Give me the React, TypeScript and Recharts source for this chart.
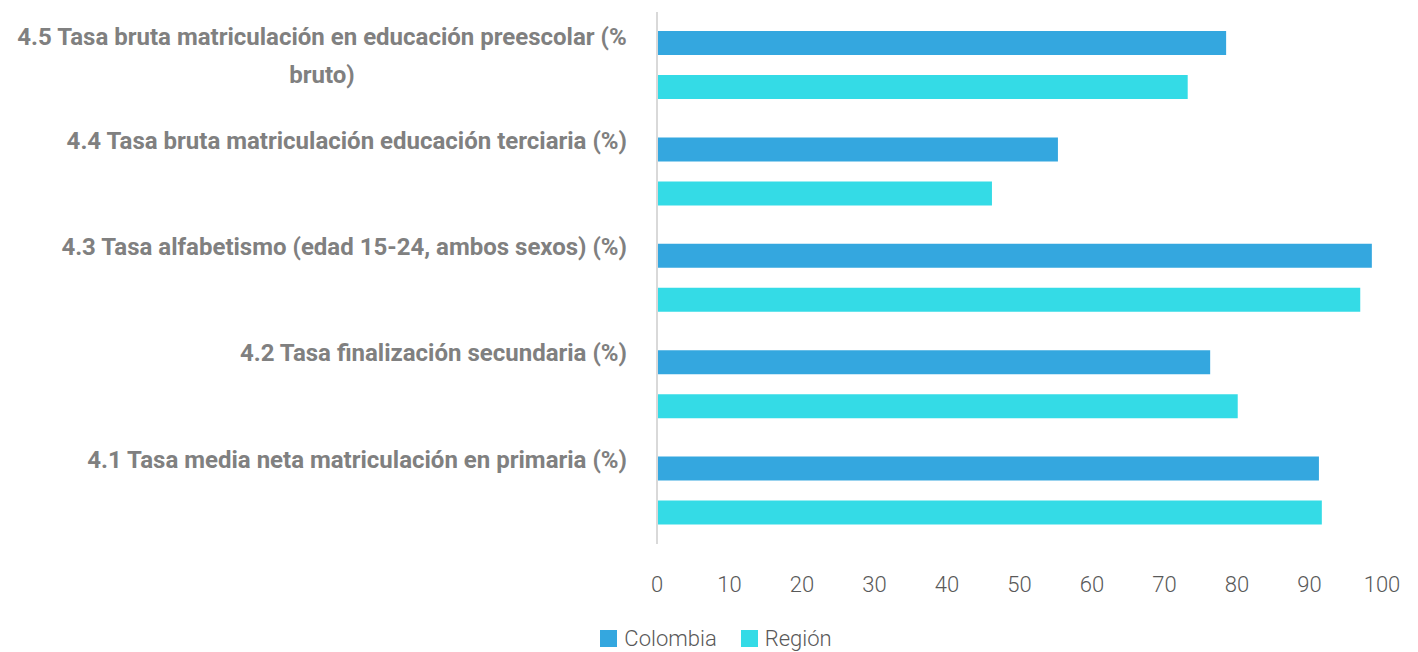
import React from 'react'
import { BarChart, Bar, XAxis, YAxis, Legend } from 'recharts'

const categories = [
  '4.5 Tasa bruta matriculación en educación preescolar (% bruto)',
  '4.4 Tasa bruta matriculación educación terciaria (%)',
  '4.3 Tasa alfabetismo (edad 15-24, ambos sexos) (%)',
  '4.2 Tasa finalización secundaria (%)',
  '4.1 Tasa media neta matriculación en primaria (%)',
]
const colombia = [78.5, 55.3, 98.6, 76.3, 91.3]
const region = [73.2, 46.2, 97.0, 80.1, 91.7]
const xTicks = [0, 10, 20, 30, 40, 50, 60, 70, 80, 90, 100]

const data = categories.map((name, i) => ({
  name,
  Colombia: colombia[i],
  Region: region[i],
}))

const labelFont = 'bold 24px Roboto'
const maxLabelWidth = 630

let ctx: CanvasRenderingContext2D | null = null
const measure = (s: string) => {
  if (!ctx) ctx = document.createElement('canvas').getContext('2d')
  if (!ctx) return s.length * 11
  ctx.font = labelFont
  return ctx.measureText(s).width
}

const wrap = (s: string) => {
  const words = s.split(' ')
  const lines: string[] = []
  let cur = ''
  for (const w of words) {
    const next = cur ? cur + ' ' + w : w
    if (cur && measure(next) > maxLabelWidth) {
      lines.push(cur)
      cur = w
    } else cur = next
  }
  if (cur) lines.push(cur)
  return lines
}

const CategoryTick = (props: any) => {
  const { x, y, payload } = props
  const lines = wrap(payload.value)
  const right = x - 22
  const style = { fontFamily: 'Roboto', fontWeight: 700, fontSize: 24, fill: '#808080' }
  if (lines.length === 1) {
    return (
      <text x={right} y={y - 23} textAnchor="end" style={style}>
        {lines[0]}
      </text>
    )
  }
  const center = right - measure(lines[0]) / 2
  return (
    <g>
      {lines.map((l, i) => (
        <text key={i} x={center} y={y - 20 + i * 38} textAnchor="middle" style={style}>
          {l}
        </text>
      ))}
    </g>
  )
}

const LegendContent = () => (
  <div style={{ display: 'flex', justifyContent: 'center', gap: 24, fontFamily: 'Roboto', fontWeight: 300, fontSize: 22, color: '#595959', paddingLeft: 42, paddingTop: 10 }}>
    {[
      { label: 'Colombia', color: '#34a7df' },
      { label: 'Región', color: '#34dbe6' },
    ].map((it) => (
      <span key={it.label} style={{ display: 'flex', alignItems: 'center', gap: 7 }}>
        <span style={{ width: 17, height: 17, background: it.color, display: 'inline-block' }} />
        {it.label}
      </span>
    ))}
  </div>
)

export default function App() {
  return (
    <BarChart
      width={1402}
      height={644}
      data={data}
      layout="vertical"
      margin={{ top: 4, right: 28, bottom: 0, left: 0 }}
      barSize={24}
      barGap={20}
    >
      <XAxis
        type="number"
        domain={[0, 100]}
        ticks={xTicks}
        axisLine={false}
        tickLine={false}
        tickMargin={26}
        height={72}
        interval={0}
        tick={{ fontFamily: 'Roboto', fontWeight: 300, fontSize: 22, fill: '#595959' }}
      />
      <YAxis
        type="category"
        dataKey="name"
        width={649}
        axisLine={{ stroke: '#d9d9d9', strokeWidth: 2 }}
        tickLine={false}
        tick={<CategoryTick />}
        interval={0}
      />
      <Legend verticalAlign="bottom" height={36} content={<LegendContent />} />
      <Bar dataKey="Colombia" fill="#34a7df" isAnimationActive={false} />
      <Bar dataKey="Region" name="Región" fill="#34dbe6" isAnimationActive={false} />
    </BarChart>
  )
}
